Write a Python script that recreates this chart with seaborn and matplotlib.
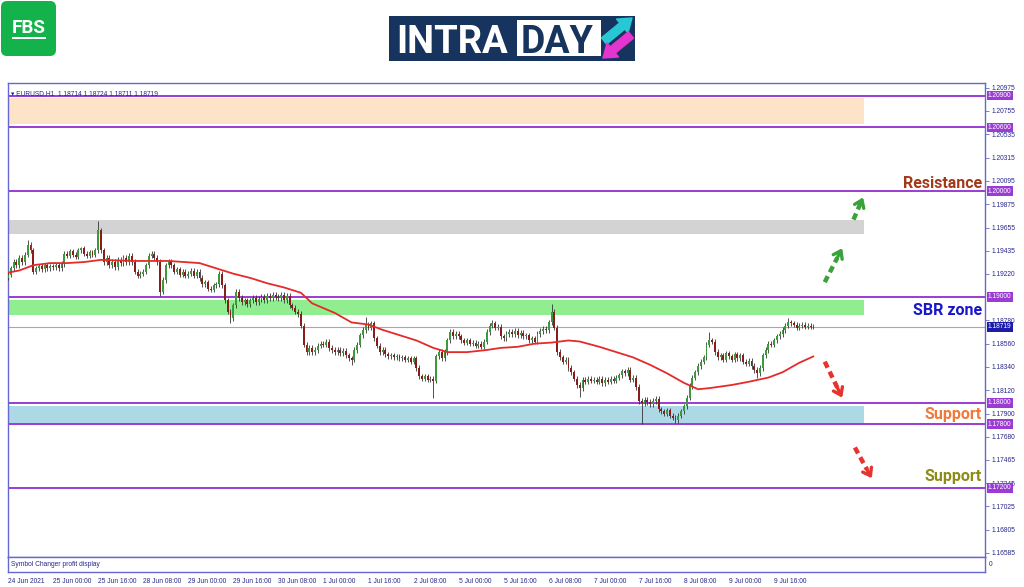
import numpy as np
import matplotlib
matplotlib.use('Agg')
import matplotlib.pyplot as plt
import matplotlib.transforms as mtrans
from matplotlib.patches import FancyBboxPatch, Rectangle
import seaborn as sns

# ---- values ----
header_text = '\u25be EURUSD,H1  1.18714 1.18724 1.18711 1.18719'
first_open = 1.1918

# hourly closes, 16 bars per row (one row per time label)
closes = [
    1.1921, 1.1927, 1.1933, 1.1930, 1.1937, 1.1933, 1.1940, 1.1949, 1.1944, 1.1924, 1.1927, 1.1929, 1.1926, 1.1930, 1.1927, 1.1929,
    1.1928, 1.1930, 1.1927, 1.1931, 1.1941, 1.1939, 1.1943, 1.1940, 1.1938, 1.1944, 1.1946, 1.1941, 1.1939, 1.1942, 1.1940, 1.1944,
    1.1963, 1.1944, 1.1933, 1.1937, 1.1930, 1.1933, 1.1928, 1.1935, 1.1932, 1.1937, 1.1933, 1.1939, 1.1933, 1.1924, 1.1920, 1.1922,
    1.1924, 1.1930, 1.1939, 1.1941, 1.1937, 1.1933, 1.1905, 1.1916, 1.1930, 1.1933, 1.1930, 1.1924, 1.1926, 1.1921, 1.1924, 1.1920,
    1.1922, 1.1925, 1.1920, 1.1924, 1.1918, 1.1912, 1.1914, 1.1908, 1.1907, 1.1911, 1.1912, 1.1922, 1.1911, 1.1897, 1.1886, 1.1880,
    1.1892, 1.1905, 1.1899, 1.1895, 1.1897, 1.1893, 1.1897, 1.1899, 1.1895, 1.1898, 1.1900, 1.1897, 1.1901, 1.1899, 1.1902, 1.1900,
    1.1899, 1.1902, 1.1897, 1.1901, 1.1892, 1.1890, 1.1886, 1.1884, 1.1873, 1.1855, 1.1848, 1.1852, 1.1848, 1.1850, 1.1854, 1.1856,
    1.1855, 1.1858, 1.1852, 1.1850, 1.1848, 1.1850, 1.1847, 1.1849, 1.1845, 1.1842, 1.1841, 1.1850, 1.1855, 1.1864, 1.1869, 1.1874,
    1.1871, 1.1875, 1.1861, 1.1854, 1.1848, 1.1850, 1.1846, 1.1844, 1.1845, 1.1843, 1.1844, 1.1842, 1.1843, 1.1841, 1.1842, 1.1839,
    1.1842, 1.1833, 1.1825, 1.1823, 1.1825, 1.1822, 1.1823, 1.1821, 1.1844, 1.1848, 1.1842, 1.1848, 1.1859, 1.1867, 1.1863, 1.1865,
    1.1863, 1.1859, 1.1857, 1.1859, 1.1856, 1.1857, 1.1854, 1.1856, 1.1853, 1.1858, 1.1867, 1.1873, 1.1875, 1.1871, 1.1872, 1.1863,
    1.1861, 1.1865, 1.1867, 1.1865, 1.1868, 1.1864, 1.1866, 1.1863, 1.1864, 1.1859, 1.1861, 1.1858, 1.1865, 1.1868, 1.1870, 1.1869,
    1.1876, 1.1886, 1.1871, 1.1848, 1.1843, 1.1839, 1.1841, 1.1833, 1.1829, 1.1823, 1.1817, 1.1814, 1.1822, 1.1820, 1.1823, 1.1821,
    1.1822, 1.1820, 1.1823, 1.1819, 1.1822, 1.1820, 1.1823, 1.1821, 1.1824, 1.1826, 1.1830, 1.1828, 1.1831, 1.1822, 1.1824, 1.1815,
    1.1802, 1.1800, 1.1803, 1.1801, 1.1799, 1.1802, 1.1804, 1.1794, 1.1792, 1.1790, 1.1793, 1.1788, 1.1786, 1.1784, 1.1788, 1.1792,
    1.1797, 1.1805, 1.1816, 1.1824, 1.1829, 1.1835, 1.1839, 1.1843, 1.1855, 1.1859, 1.1858, 1.1848, 1.1843, 1.1845, 1.1841, 1.1847,
    1.1844, 1.1841, 1.1846, 1.1842, 1.1845, 1.1839, 1.1837, 1.1840, 1.1835, 1.1831, 1.1828, 1.1833, 1.1845, 1.1850, 1.1856, 1.1855,
    1.1859, 1.1863, 1.1865, 1.1869, 1.1873, 1.1876, 1.1875, 1.1874, 1.1871, 1.1873, 1.1874, 1.1872, 1.1873, 1.1872, 1.18719,
]

# the long wicks that stand out
wick_highs = {7: 1.1954, 26: 1.1947, 32: 1.1972, 127: 1.1881, 172: 1.1878,
              193: 1.1893, 249: 1.1867, 277: 1.1880}
wick_lows = {0: 1.1916, 54: 1.1901, 79: 1.1875, 122: 1.1836, 151: 1.1805,
             203: 1.1806, 225: 1.1780, 237: 1.1781, 266: 1.1824}

# red moving average, sampled along the line (bar index, price)
ma_bars = [0, 4, 9, 15, 21, 27, 33, 45, 57, 68, 74, 80, 86, 92, 98, 104, 108, 116,
           122, 128, 133, 139, 145, 151, 156, 163, 170, 175, 181, 187, 193, 199, 203,
           210, 216, 222, 228, 234, 240, 245, 249, 257, 263, 270, 275, 281, 286]
ma_prices = [1.1923, 1.1925, 1.1930, 1.1932, 1.1932, 1.1933, 1.1935, 1.1934, 1.1934,
             1.1932, 1.1927, 1.1922, 1.1918, 1.1913, 1.1909, 1.1904, 1.1894, 1.1885,
             1.1876, 1.1874, 1.1869, 1.1864, 1.1859, 1.1852, 1.1848, 1.1848, 1.1850,
             1.1852, 1.1853, 1.1856, 1.1857, 1.1859, 1.1858, 1.1853, 1.1848, 1.1843,
             1.1836, 1.1828, 1.1819, 1.1813, 1.1814, 1.1817, 1.1820, 1.1824, 1.1829,
             1.1838, 1.1844]

time_labels = ['24 Jun 2021', '25 Jun 00:00', '25 Jun 16:00', '28 Jun 08:00', '29 Jun 00:00',
               '29 Jun 16:00', '30 Jun 08:00', '1 Jul 00:00', '1 Jul 16:00', '2 Jul 08:00',
               '5 Jul 00:00', '5 Jul 16:00', '6 Jul 08:00', '7 Jul 00:00', '7 Jul 16:00',
               '8 Jul 08:00', '9 Jul 00:00', '9 Jul 16:00']
price_ticks = [1.20975, 1.20755, 1.20535, 1.20315, 1.20095, 1.19875, 1.19655, 1.19435,
               1.19220, 1.18780, 1.18560, 1.18340, 1.18120, 1.17900, 1.17680,
               1.17465, 1.17245, 1.17025, 1.16805, 1.16585]
levels = [1.2090, 1.2060, 1.2000, 1.1900, 1.1800, 1.1780, 1.1720]
last_price = 1.18719
zone_lows = [1.2063, 1.19594, 1.1883, 1.17811]
zone_highs = [1.2088, 1.19726, 1.18972, 1.17972]
zone_colors = ['#fde3c8', '#d3d3d3', '#90ee90', '#add8e6']

FRAME = '#6767d2'
PURPLE = '#9b3bd3'
NAVY = '#27278c'

sns.set_style('white')
plt.rcParams['font.family'] = ['Liberation Sans', 'DejaVu Sans']

fig = plt.figure(figsize=(10.24, 5.87), dpi=100)
fig.patch.set_facecolor('white')

# logos drawn in pixel space
deco = fig.add_axes([0, 0, 1, 1])
deco.set_xlim(0, 1024)
deco.set_ylim(587, 0)
deco.axis('off')
deco.add_patch(FancyBboxPatch((1, 1), 55, 55, boxstyle='round,pad=0,rounding_size=6',
                              fc='#14b24a', ec='none'))
deco.text(29, 33, 'FBS', color='white', fontsize=13.5, fontweight='bold',
          family='Roboto', ha='center', va='baseline')
deco.add_patch(Rectangle((12, 36.5), 34, 2.5, fc='white', ec='none'))
deco.add_patch(Rectangle((389, 16), 246, 45, fc='#17345f', ec='none'))
deco.add_patch(Rectangle((517, 20), 84, 36, fc='white', ec='none'))
deco.text(396, 53, 'INTRA', color='white', fontsize=27.5, fontweight='bold',
          family='Roboto', ha='left', va='baseline')
deco.text(521, 53, 'DAY', color='#17345f', fontsize=27, fontweight='bold',
          family='Roboto', ha='left', va='baseline')
deco.annotate('', xy=(632, 18), xytext=(604, 41),
              arrowprops=dict(arrowstyle='simple,head_length=0.7,head_width=1.0,tail_width=0.45',
                              color='#27c7d3', mutation_scale=13, shrinkA=0, shrinkB=0))
deco.annotate('', xy=(603, 58), xytext=(631, 35),
              arrowprops=dict(arrowstyle='simple,head_length=0.7,head_width=1.0,tail_width=0.45',
                              color='#e535cf', mutation_scale=13, shrinkA=0, shrinkB=0))

L, R = 8 / 1024, 985 / 1024
ax = fig.add_axes([L, 1 - 557 / 587, R - L, (557 - 83) / 587])
ax2 = fig.add_axes([L, 1 - 572 / 587, R - L, 15 / 587])

n = len(closes)
bars = np.arange(n)
c = np.array(closes)
o = np.r_[first_open, c[:-1]]
WICK = 0.00025
hi = np.maximum(o, c) + WICK
lo = np.minimum(o, c) - WICK
for k, v in wick_highs.items():
    hi[k] = v
for k, v in wick_lows.items():
    lo[k] = v
up = c >= o

x_max = 346.9
zone_end = 303.9

for z0, z1, col in zip(zone_lows, zone_highs, zone_colors):
    ax.fill_between([0, zone_end], z0, z1, color=col, lw=0, zorder=1)
for lv in levels:
    ax.axhline(lv, color=PURPLE, lw=1.4, zorder=2)
ax.axhline(last_price, color='#a8a8a8', lw=0.8, zorder=2)

ax.vlines(bars, lo, hi, color='#333333', lw=0.6, zorder=3)
ax.bar(bars[up], (c - o)[up], bottom=o[up], width=0.68, color='#3c9a3c', lw=0, zorder=4)
ax.bar(bars[~up], (c - o)[~up], bottom=o[~up], width=0.68, color='#8a1c1c', lw=0, zorder=4)
sns.lineplot(x=ma_bars, y=ma_prices, ax=ax, color='#e52a2a', lw=1.3, zorder=5)

ax.set_xlim(0, x_max)
ax.set_ylim(1.16547, 1.21019)
ax.set_xticks([])
ax.set_xlabel('')
ax.set_ylabel('')
ax.yaxis.tick_right()
ax.set_yticks(price_ticks)
ax.set_yticklabels([f'{t:.5f}' for t in price_ticks])
ax.tick_params(axis='y', length=3, width=0.6, color=FRAME, labelsize=4.8,
               labelcolor=NAVY, pad=1.5)
for sp in ax.spines.values():
    sp.set_color(FRAME)
    sp.set_linewidth(1)

bt = mtrans.blended_transform_factory(ax.transAxes, ax.transData)
for lv in levels:
    ax.text(1.003, lv, f'{lv:.5f}', transform=bt, ha='left', va='center', fontsize=4.8,
            color='white', zorder=10, clip_on=False,
            bbox=dict(boxstyle='square,pad=0.2', fc=PURPLE, ec='none'))
ax.text(1.003, last_price, f'{last_price:.5f}', transform=bt, ha='left', va='center',
        fontsize=4.8, color='white', zorder=10, clip_on=False,
        bbox=dict(boxstyle='square,pad=0.2', fc='#1c1caa', ec='none'))

ax.text(0.003, 0.985, header_text, transform=ax.transAxes, ha='left', va='top',
        fontsize=4.8, color=NAVY, zorder=10)

# zone captions
captions = [('Resistance', 1.20028, '#a3391a'), ('SBR zone', 1.18830, '#1717c8'),
            ('Support', 1.17849, '#ef7a3a'), ('Support', 1.17264, '#8c8c16')]
for txt, yv, col in captions:
    ax.text(0.997, yv, txt, transform=bt, ha='right', va='baseline', fontsize=11.5,
            fontweight='bold', family='Roboto', color=col, zorder=10)

# dashed direction arrows
arrows = [((290, 1.1914), (296.2, 1.1946), '#3aa23a'),
          ((300.2, 1.1973), (303.6, 1.1994), '#3aa23a'),
          ((290, 1.1839), (296.2, 1.1805), '#e8322e'),
          ((300.7, 1.1758), (306.7, 1.1729), '#e8322e')]
for (x0, y0), (x1, y1), col in arrows:
    xm, ym = x0 + 0.72 * (x1 - x0), y0 + 0.72 * (y1 - y0)
    ax.plot([x0, xm], [y0, ym], color=col, lw=3.2, ls=(0, (1.5, 1.0)),
            solid_capstyle='butt', zorder=6)
    ax.annotate('', xy=(x1, y1), xytext=(xm, ym),
                arrowprops=dict(arrowstyle='->,head_length=0.5,head_width=0.36',
                                color=col, lw=2.4, shrinkA=0, shrinkB=0), zorder=6)

# lower indicator strip with time axis
ax2.set_xlim(0, x_max)
ax2.set_ylim(0, 1)
ax2.set_yticks([])
ax2.set_xticks(np.arange(len(time_labels)) * 16)
ax2.set_xticklabels(time_labels)
ax2.tick_params(axis='x', length=3, width=0.6, color=FRAME, labelsize=4.8,
                labelcolor=NAVY, pad=1.5, direction='out')
for lbl in ax2.get_xticklabels():
    lbl.set_ha('left')
for sp in ax2.spines.values():
    sp.set_color(FRAME)
    sp.set_linewidth(1)
ax2.text(0.003, 0.5, 'Symbol Changer profit display', transform=ax2.transAxes,
         ha='left', va='center', fontsize=4.8, color=NAVY)
ax2.text(1.004, 0.5, '0', transform=ax2.transAxes, ha='left', va='center',
         fontsize=4.8, color=NAVY)

fig.savefig('out.png', dpi=100, facecolor='white')
